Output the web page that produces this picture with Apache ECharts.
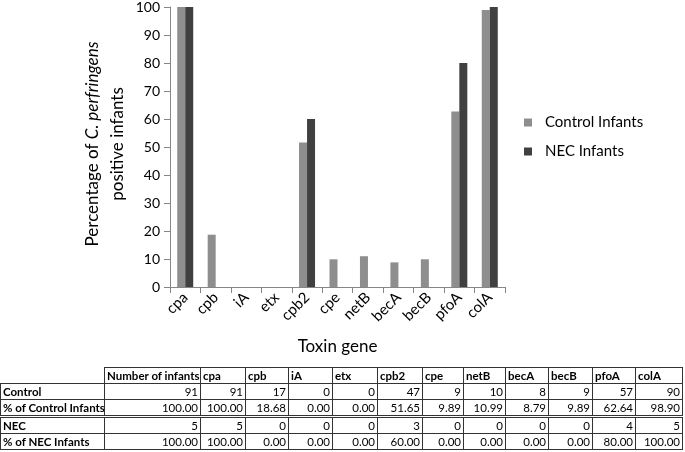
<!DOCTYPE html>
<html><head><meta charset="utf-8">
<script src="https://cdn.jsdelivr.net/npm/echarts@6/dist/echarts.min.js"></script>
<style>
html,body{margin:0;padding:0;background:#fff;}
#chart{position:absolute;left:0;top:0;width:685px;height:452px;}
#tbl{position:absolute;left:0;top:367px;width:682px;border-collapse:collapse;font-family:Lato,'Open Sans',sans-serif;font-size:11.5px;color:#000;table-layout:fixed;}
#tbl td{border:1px solid #333;padding:0 2px;height:15px;line-height:15px;white-space:nowrap;overflow:hidden;text-align:right;}
#tbl td.l{text-align:left;font-weight:bold;}
#tbl td.e{border:none;}
#tbl tr.sep td{border-top:3px double #333;}
</style>
</head><body>
<div id="chart"></div>
<table id="tbl"></table>
<script>
const genes = ['cpa','cpb','iA','etx','cpb2','cpe','netB','becA','becB','pfoA','colA'];
const controlPct = [100, 18.68, 0, 0, 51.65, 9.89, 10.99, 8.79, 9.89, 62.64, 98.90];
const necPct = [100, 0, 0, 0, 60, 0, 0, 0, 0, 80, 100];
const yTicks = [0,10,20,30,40,50,60,70,80,90,100];
const tableHeader = ['Number of infants','cpa','cpb','iA','etx','cpb2','cpe','netB','becA','becB','pfoA','colA'];
const controlCounts = [91,91,17,0,0,47,9,10,8,9,57,90];
const controlPctRow = ['100.00','100.00','18.68','0.00','0.00','51.65','9.89','10.99','8.79','9.89','62.64','98.90'];
const necCounts = [5,5,0,0,0,3,0,0,0,0,4,5];
const necPctRow = ['100.00','100.00','0.00','0.00','0.00','60.00','0.00','0.00','0.00','0.00','80.00','100.00'];
const rowLabels = ['Control','% of Control Infants','NEC','% of NEC Infants'];
const colWidths = [104,96,45,43,44,45,45,41,42,43,44,43,47];

const font = 'Lato, "Open Sans", sans-serif';
const chart = echarts.init(document.getElementById('chart'));
chart.setOption({
  animation:false,
  textStyle:{fontFamily:font},
  grid:{left:170,right:180,top:5,bottom:165,containLabel:false},
  legend:{
    orient:'vertical',left:519,top:110,itemWidth:8,itemHeight:8,itemGap:14,
    icon:'rect',textStyle:{fontSize:15,color:'#000',fontFamily:font,padding:[0,0,0,8]},
    data:['Control Infants','NEC Infants']
  },
  xAxis:{
    type:'category',data:genes,
    axisLine:{lineStyle:{color:'#868686'}},
    axisTick:{show:true,length:6,lineStyle:{color:'#868686'}},
    axisLabel:{rotate:45,fontSize:15,color:'#000',margin:8,fontFamily:font},
    name:'Toxin gene',nameLocation:'middle',nameGap:51,
    nameTextStyle:{fontSize:17,color:'#000',fontFamily:font}
  },
  yAxis:{
    type:'value',min:0,max:100,interval:10,
    axisLine:{show:true,lineStyle:{color:'#868686'}},
    axisTick:{show:true,length:6,lineStyle:{color:'#868686'}},
    axisLabel:{fontSize:14,color:'#000',margin:10,fontFamily:font},
    splitLine:{show:false}
  },
  graphic:[{
    type:'text',x:105,y:144,rotation:Math.PI/2,
    style:{
      text:'Percentage of {i|C. perfringens}\npositive infants',
      align:'center',verticalAlign:'middle',fontSize:17,lineHeight:25,fill:'#000',fontFamily:font,
      rich:{i:{fontStyle:'italic',fontSize:17,fontFamily:font,fill:'#000'}}
    }
  }],
  series:[
    {name:'Control Infants',type:'bar',data:controlPct,barWidth:8,barGap:'0%',itemStyle:{color:'#8e8e8e'}},
    {name:'NEC Infants',type:'bar',data:necPct,barWidth:8,barGap:'0%',itemStyle:{color:'#404040'}}
  ]
});

const tbl = document.getElementById('tbl');
const cg = document.createElement('colgroup');
colWidths.forEach(w=>{const c=document.createElement('col');c.style.width=w+'px';cg.appendChild(c);});
tbl.appendChild(cg);
function addRow(label, vals, isHeader, cls){
  const tr=document.createElement('tr');
  if(cls) tr.className=cls;
  const td0=document.createElement('td');
  if(isHeader){td0.className='e';} else {td0.className='l';td0.textContent=label;}
  tr.appendChild(td0);
  vals.forEach((v)=>{
    const td=document.createElement('td');
    td.textContent=v;
    if(isHeader){td.style.textAlign='left';td.style.fontWeight='bold';}
    tr.appendChild(td);
  });
  tbl.appendChild(tr);
}
addRow('',tableHeader,true);
addRow(rowLabels[0],controlCounts,false);
addRow(rowLabels[1],controlPctRow,false);
addRow(rowLabels[2],necCounts,false,'sep');
addRow(rowLabels[3],necPctRow,false);
</script>
</body></html>
